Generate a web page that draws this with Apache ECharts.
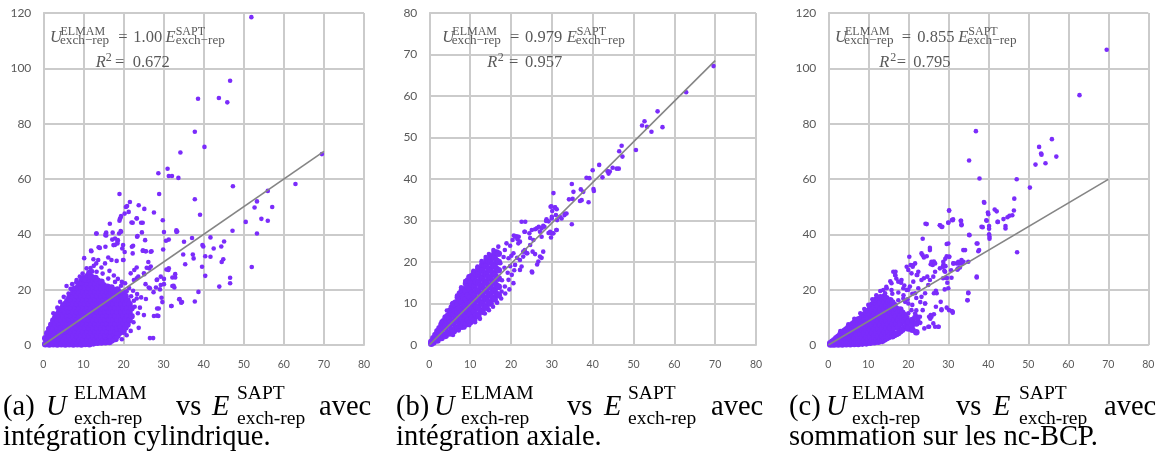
<!DOCTYPE html>
<html><head><meta charset="utf-8">
<script src="https://cdn.jsdelivr.net/npm/echarts@6/dist/echarts.min.js"></script>
<style>html,body{margin:0;padding:0;background:#fff}#c{width:1160px;height:455px}</style>
</head><body><div id="c"></div>
<script>
// ---------- axis / annotation values ----------
const xMax = [80, 80, 80];
const yMax = [120, 80, 120];
const yStep = [20, 10, 20];
const xStep = 10;
const slopes = ['1.00', '0.979', '0.855'];
const slopeVals = [1.00, 0.979, 0.855];
const r2 = ['0.672', '0.957', '0.795'];
const trendXEnd = [70, 70, 70];
const panelTags = ['(a)', '(b)', '(c)'];
const captionLine2 = ['intégration cylindrique.', 'intégration axiale.', 'sommation sur les nc-BCP.'];

// ---------- (a) cylindrical integration : dense core as [x, [y...]] ----------
const coreA = [
[0.5,[0.3,2.4]],[1.0,[1.2,4.2]],[1.5,[0.2,3.1,5.8]],[2.0,[1.5,4.4,7.3]],[2.5,[0.3,3.1,5.9,8.8]],
[3.0,[1.6,4.5,7.4,9.9]],[3.5,[0.2,3.2,6.0,8.9,11.0]],[4.0,[1.7,4.6,7.5,10.4,12.1]],
[4.5,[0.3,3.1,6.1,9.0,11.8,13.0]],[5.0,[1.5,4.5,7.4,10.3,13.2,14.3]],[5.5,[0.2,3.0,6.0,8.9,11.8,14.8]],
[6.0,[1.6,4.6,7.5,10.4,13.3,15.9]],[6.5,[0.3,3.2,6.1,9.0,11.9,14.8,17.1]],[7.0,[1.7,4.6,7.6,10.5,13.4,16.3,18.0]],
[7.5,[0.2,3.1,6.0,8.9,11.8,14.7,17.6,19.2]],[8.0,[1.6,4.5,7.4,10.3,13.2,16.1,19.0,20.3]],
[8.5,[0.3,3.2,6.1,9.0,11.9,14.8,17.7,20.6]],[9.0,[1.5,4.4,7.3,10.2,13.1,16.0,18.9,21.8]],
[9.5,[0.2,3.1,6.0,8.9,11.8,14.7,17.6,20.5,22.9]],[10.0,[1.7,4.6,7.5,10.4,13.3,16.2,19.1,22.0,24.1]],
[10.5,[0.4,3.3,6.2,9.1,12.0,14.9,17.8,20.7,23.6]],[11.0,[1.6,4.5,7.4,10.3,13.2,16.1,19.0,21.9,24.8]],
[11.5,[0.3,3.2,6.1,9.0,11.9,14.8,17.7,20.6,23.5,26.0]],[12.0,[1.5,4.4,7.3,10.2,13.1,16.0,18.9,21.8,24.6]],
[12.5,[0.6,3.1,6.0,8.9,11.8,14.7,17.6,20.5,23.4]],[13.0,[1.7,4.6,7.5,10.4,13.3,16.2,19.1,22.0,24.2]],
[13.5,[0.8,3.2,6.1,9.0,11.9,14.8,17.7,20.6,23.3]],[14.0,[1.6,4.5,7.4,10.3,13.2,16.1,19.0,21.9]],
[14.5,[0.9,3.1,6.0,8.9,11.8,14.7,17.6,20.5,22.8]],[15.0,[1.5,4.4,7.3,10.2,13.1,16.0,18.9,21.6]],
[15.5,[1.0,3.2,6.1,9.0,11.9,14.8,17.7,20.4]],[16.0,[1.7,4.6,7.5,10.4,13.3,16.2,19.1,21.0]],
[16.5,[1.1,3.3,6.2,9.1,12.0,14.9,17.8,20.3]],[17.0,[1.6,4.5,7.4,10.3,13.2,16.1,19.0,20.8]],
[17.5,[3.1,6.0,8.9,11.8,14.7,17.6,19.8]],[18.0,[2.2,4.6,7.5,10.4,13.3,16.2,19.1]],
[18.5,[3.3,6.1,9.0,11.9,14.8,17.7,20.0]],[19.0,[4.4,7.4,10.3,13.2,16.1,19.0]],
[19.5,[5.9,8.9,11.8,14.7,17.6]],[20.0,[4.8,7.5,10.4,13.3,16.2,18.8]],
[20.5,[6.3,9.1,12.0,14.9,17.6]],[21.0,[7.4,10.3,13.2,16.1]],[21.5,[9.0,11.9,14.8]],[22.0,[10.4,13.3]]
];
const sparseA = [
[51.9,118.5],[46.6,95.5],[38.6,89.0],[43.8,89.3],[45.9,87.7],[37.8,77.1],[40.2,71.6],[34.2,69.6],[69.5,69.0],
[28.7,62.1],[31.0,63.7],[31.3,61.1],[32.1,61.1],[33.7,60.4],[47.3,57.4],[62.9,58.2],[28.9,54.6],[19.0,54.6],
[37.8,52.7],[56.0,55.7],[53.3,51.9],[52.7,49.7],[57.1,49.9],[39.1,47.1],[21.6,51.7],[20.6,49.9],[21.3,48.1],
[23.8,50.5],[25.2,49.2],[27.6,47.9],[29.8,45.1],[50.5,44.5],[54.4,45.6],[56.0,44.9],[53.3,40.3],[47.2,41.3],
[33.2,41.5],[33.4,41.0],[30.1,40.8],[31.3,38.1],[35.1,37.3],[37.1,38.7],[41.7,38.9],[39.7,36.1],[39.9,35.6],
[45.1,37.4],[44.4,35.6],[42.5,34.9],[34.9,32.7],[37.3,32.7],[37.5,31.3],[40.4,32.1],[41.7,31.9],[44.9,31.0],
[44.5,30.0],[35.4,29.2],[39.6,28.3],[52.0,28.2],[40.4,25.0],[46.6,24.3],[46.6,22.3],[43.9,21.1],[38.7,19.2],
[37.8,15.7],[34.0,16.6],[34.4,15.3],[31.9,14.1],[27.4,2.5],[26.6,2.5],[29.7,15.5],[28.8,13.2],[27.6,10.5],
[28.4,10.6],[32.9,25.6],[32.2,24.4],[32.5,21.4],[32.7,20.8],[30.7,27.3],[31.3,27.7],[30.1,23.9],[29.3,21.7],
[29.5,17.1],[28.4,23.7],[28.1,20.8],[27.5,19.1],[26.3,20.8],[25.5,22.0],[25.2,25.6],[24.9,34.1],[25.5,33.9],
[27.0,33.9],[26.2,30.0],[26.8,28.4],[25.8,27.9],[23.4,39.1],[22.4,35.9],[22.3,33.1],[19.9,36.1],[20.3,33.6],
[19.9,30.7],[23.3,28.0],[22.7,27.1],[23.3,24.1],[24.6,40.7],[24.8,44.2],[22.3,44.2],[23.3,45.7],[19.3,41.2],
[19.4,46.6],[19.1,45.5],[15.7,40.6],[15.5,39.7],[13.2,40.3],[13.8,35.3],[11.9,34.1],[17.2,38.1],[17.9,36.2],
[18.6,37.9],[18.9,40.3],[20.9,50.2],[20.3,47.5],[19.3,46.1],[23.3,45.8],[19.0,44.9],[22.0,44.3],[24.4,44.2],
[16.6,43.8],[13.3,40.3],[15.6,40.3],[17.3,40.6],[19.4,40.9],[15.7,39.6],[17.9,38.5],[18.5,37.3],[23.5,39.4],
[25.4,37.9],[22.1,35.5],[19.7,34.9],[24.8,34.1],[25.6,33.9],[26.8,33.7],[29.9,34.5],[12.0,33.9],[14.1,35.1],
[15.5,35.5],[17.5,36.1],[18.5,36.7],[10.2,31.4],[12.5,31.0],[16.2,31.6],[17.0,30.7],[18.3,30.4],[20.0,30.7],
[33.2,40.9],[30.6,37.7],[31.2,27.1],[32.9,24.4],[29.3,24.7],[28.3,23.5],[26.4,27.7],[25.1,25.9],[23.7,24.7],
[22.6,23.5],[21.8,25.9],[26.6,20.5],[29.1,20.1],[30.1,22.0],[32.2,21.3],[33.9,16.5],[34.6,15.5],[32.0,14.1],
[28.4,13.2],[28.7,10.5],[25.1,10.8],[24.1,13.5],[25.6,16.6],[23.3,16.8],[21.2,9.0],[19.1,6.6],[18.3,4.2],
[16.6,3.0],[14.3,0.8],[15.5,1.1],[9.1,22.3],[7.5,20.5],[5.8,21.3],[10.4,23.5],[11.6,24.7],[13.3,26.5],
[14.5,28.0],[15.4,29.5],[13.7,30.7],[10.8,27.7],[9.1,24.7],[2.5,11.5],[3.5,13.5],[4.2,15.6],[5.1,17.4],
[6.3,18.6],[7.2,22.0],[8.3,23.5],[11.8,27.8],[12.6,28.6],[16.5,26.8],[17.6,25.1],[18.6,23.9],[19.6,22.8],
[20.4,22.3],[21.4,20.6],[22.4,19.6],[23.4,18.4],[24.4,17.2],[22.8,13.8],[23.6,11.5],[22.5,8.2],[23.8,6.2],
[21.8,5.1],[20.8,3.5],[19.6,2.1],[17.4,1.6],[13.2,29.5],[16.2,24.0],[14.8,25.8],[12.2,26.6],[9.8,25.8],
[8.2,22.6],[6.8,20.3],[17.9,22.8],[19.4,21.4],[20.8,19.4],[21.9,17.6],[22.6,16.0]
];

// ---------- (b) axial integration ----------
const coreB = [
[0.5,[0.3,0.8]],[1.0,[0.6,1.6]],[1.5,[1.2,2.4]],[2.0,[1.1,2.3,3.3]],[2.5,[1.9,3.2,4.0]],
[3.0,[1.7,3.2,4.9]],[3.5,[2.4,4.2,5.7]],[4.0,[2.2,4.1,5.6,6.6]],[4.5,[3.0,5.0,7.0]],
[5.0,[2.8,4.7,6.5,8.2]],[5.5,[3.6,5.6,7.6,9.0]],[6.0,[3.3,5.3,7.3,9.2,9.9]],[6.5,[4.2,6.2,8.2,10.2]],
[7.0,[3.9,5.9,7.9,9.9,11.5]],[7.5,[4.8,6.8,8.8,10.8,12.4]],[8.0,[4.4,6.4,8.4,10.4,12.4,13.2]],
[8.5,[5.4,7.4,9.4,11.4,13.4]],[9.0,[5.0,7.0,9.0,11.0,13.0,14.8]],[9.5,[6.0,8.0,10.0,12.0,14.0,15.6]],
[10.0,[5.5,7.5,9.5,11.5,13.5,15.5,16.4]],[10.5,[6.6,8.6,10.6,12.6,14.6,16.6]],
[11.0,[6.1,8.1,10.1,12.1,14.1,16.1,17.4]],[11.5,[7.2,9.2,11.2,13.2,15.2,17.2]],
[12.0,[7.0,9.0,11.0,13.0,15.0,17.0,18.4]],[12.5,[8.3,10.3,12.3,14.3,16.3,18.3]],
[13.0,[8.0,10.0,12.0,14.0,16.0,18.0,19.4]],[13.5,[9.3,11.3,13.3,15.3,17.3,19.3]],
[14.0,[9.0,11.0,13.0,15.0,17.0,19.0,20.4]],[14.5,[10.3,12.3,14.3,16.3,18.3,20.3]],
[15.0,[10.0,12.0,14.0,16.0,18.0,20.0,21.4]],[15.5,[11.3,13.3,15.3,17.3,19.3,21.3]],
[16.0,[11.0,13.0,15.0,17.0,19.0,21.0,22.3]],[16.5,[12.3,14.3,16.3,18.3,20.3,22.3]],
[17.0,[12.0,14.0,16.0,18.0,20.0,22.0]]
];
const sparseB = [
[69.6,67.2],[62.9,60.9],[55.9,56.3],[52.7,53.9],[52.1,52.9],[53.3,52.6],[54.4,51.4],[57.1,52.5],[50.6,47.0],
[47.1,48.0],[46.5,46.7],[47.3,45.4],[46.4,42.5],[45.9,42.5],[44.9,42.7],[44.2,41.8],[43.9,41.3],[43.6,41.9],
[41.6,43.4],[42.4,40.4],[40.0,42.1],[40.2,37.6],[40.3,37.1],[38.5,40.3],[39.2,40.2],[39.0,34.4],[37.7,36.9],
[37.1,37.5],[37.3,34.9],[36.9,34.7],[35.3,36.9],[34.9,38.8],[35.1,35.2],[34.2,35.1],[34.9,29.1],[33.6,31.7],
[33.1,31.3],[32.0,30.9],[32.4,30.5],[31.3,30.1],[30.4,36.6],[29.9,33.4],[30.8,33.1],[30.1,32.3],[31.0,31.3],
[30.0,30.5],[28.7,30.3],[29.2,29.8],[31.1,27.7],[30.0,26.9],[29.2,27.0],[29.8,25.9],[28.2,28.5],[27.5,28.1],
[26.3,28.1],[25.1,27.7],[24.7,25.8],[23.4,27.3],[22.6,29.7],[23.5,29.7],[20.7,26.4],[21.4,26.2],[21.9,26.1],
[27.5,21.0],[26.4,19.4],[25.2,17.5],[25.3,22.5],[25.9,21.9],[23.0,22.5],[24.0,22.1],[21.0,26.1],[21.6,25.5],
[22.2,24.9],[19.8,23.9],[23.3,27.3],[24.5,26.9],[25.9,27.9],[26.8,28.5],[27.9,28.7],[28.6,29.9],[30.0,30.9],
[29.7,33.3],[30.8,33.2],[31.2,32.7],[33.2,31.6],[31.2,27.7],[29.6,27.3],[30.4,26.9],[27.1,27.3],[27.5,26.1],
[25.5,25.3],[24.7,24.1],[23.4,22.9],[23.8,22.1],[23.0,21.3],[22.2,20.5],[22.6,18.9],[22.2,18.1],[25.1,17.7],
[26.7,20.1],[27.1,21.3],[27.9,22.5],[21.0,19.3],[20.2,16.9],[19.4,15.7],[20.6,14.9],[18.5,14.1],[17.7,12.9],
[21.8,24.5],[20.4,25.3],[18.9,24.5],[18.5,22.9],[16.9,23.7],[15.7,22.9],[20.6,22.1],[19.4,20.9],
[3.0,5.6],[4.3,8.3],[5.6,10.0],[6.8,11.9],[7.8,13.9],[8.8,15.4],[9.6,16.5],[10.8,17.9],[11.8,18.9],
[12.8,20.2],[13.8,21.2],[14.6,21.9],[5.8,2.4],[7.2,3.5],[8.6,4.2],[9.8,4.8],[11.2,5.5],[12.4,6.3],
[13.6,7.6],[14.6,8.4],[15.6,9.2],[16.6,10.2],[17.6,11.2],[18.6,12.4],[19.6,13.4],[17.8,15.6],[18.4,18.6],
[19.2,17.4],[20.1,21.5],[18.2,21.2],[19.8,19.0],[20.8,18.0],[21.5,21.0],[17.4,19.7]
];

// ---------- (c) summation over nc-BCP ----------
const coreC = [
[0.5,[0.2,0.6]],[1.0,[0.3,1.2]],[1.5,[0.2,1.7]],[2.0,[0.5,2.4]],[2.5,[0.2,1.8,3.0]],[3.0,[0.6,2.4,3.7]],
[3.5,[0.2,2.0,4.3]],[4.0,[0.7,3.2,5.0]],[4.5,[0.3,2.1,4.4,5.6]],[5.0,[1.0,3.6,6.2]],[5.5,[0.3,2.4,5.0,6.8]],
[6.0,[1.2,3.8,6.3,7.5]],[6.5,[0.4,2.6,5.2,8.0]],[7.0,[1.3,4.0,6.6,8.6]],[7.5,[0.4,2.7,5.4,8.0,9.2]],
[8.0,[1.4,4.1,6.8,9.5]],[8.5,[0.5,2.8,5.5,8.2,10.3]],[9.0,[1.5,4.2,6.9,9.6,11.0]],
[9.5,[0.6,2.9,5.6,8.3,11.0,11.8]],[10.0,[1.6,4.3,7.0,9.7,12.4]],[10.5,[0.8,3.0,5.7,8.4,11.1,13.4]],
[11.0,[1.7,4.4,7.1,9.8,12.5,14.6]],[11.5,[1.0,3.1,5.8,8.5,11.2,13.9,15.6]],[12.0,[1.8,4.5,7.2,9.9,12.6,15.3,16.4]],
[12.5,[1.2,3.2,5.9,8.6,11.3,14.0,16.7]],[13.0,[1.9,4.6,7.3,10.0,12.7,15.4,17.2]],
[13.5,[1.5,3.3,6.0,8.7,11.4,14.1,16.8]],[14.0,[2.0,4.7,7.4,10.1,12.8,15.5,17.4]],
[14.5,[2.4,3.4,6.1,8.8,11.5,14.2,16.9]],[15.0,[2.8,4.8,7.5,10.2,12.9,15.6]],[15.5,[3.5,6.2,8.9,11.6,14.3,16.2]],
[16.0,[3.2,4.9,7.6,10.3,13.0,15.3]],[16.5,[3.6,6.3,9.0,11.7,14.4]],[17.0,[4.0,7.7,10.4,13.1]],
[17.5,[4.3,6.4,9.1,11.8]],[18.0,[5.0,7.8,10.5,12.8]],[18.5,[5.5,9.2,11.6]],[19.0,[6.2,8.6,10.8]],
[19.5,[7.0,9.7]],[20.0,[6.0,8.4]],[21.0,[5.5,7.5,9.0]],[22.0,[4.6,7.8,10.0]]
];
const sparseC = [
[69.6,106.7],[62.8,90.3],[36.9,77.3],[55.9,74.4],[52.7,71.6],[53.2,69.2],[53.3,68.8],[57.0,68.1],[54.3,65.7],
[51.8,65.2],[35.2,66.7],[37.8,60.2],[47.1,59.9],[50.4,56.9],[38.9,51.7],[46.5,52.9],[46.4,48.6],[41.6,49.0],
[39.9,47.9],[39.5,45.1],[40.2,43.0],[40.2,42.0],[42.4,44.5],[43.8,45.5],[44.8,46.2],[45.3,46.7],[46.0,46.9],
[44.3,43.0],[44.3,42.1],[38.6,42.6],[47.2,33.5],[37.1,24.7],[30.2,48.7],[30.0,44.3],[31.2,45.4],[33.1,44.9],
[33.3,43.6],[35.3,39.7],[37.3,36.7],[37.7,34.3],[34.2,34.3],[33.8,30.1],[33.4,29.5],[32.6,29.5],[32.1,29.5],
[31.3,29.5],[32.3,27.3],[32.9,28.0],[30.8,24.3],[29.75,22.5],[30.25,31.9],[29.6,32.1],[29.6,36.5],[28.8,29.1],
[29.3,28.5],[29.25,31.2],[28.6,28.3],[29.0,26.8],[28.7,24.1],[29.6,24.3],[29.1,20.1],[28.3,12.9],[29.6,13.5],
[30.9,12.3],[31.1,11.7],[35.0,19.0],[34.8,16.2],[28.1,15.6],[26.4,18.7],[24.3,43.8],[27.9,43.3],[28.5,42.7],
[30.9,45.2],[23.6,38.4],[25.4,35.1],[23.6,32.4],[24.6,32.1],[26.4,30.2],[26.1,28.9],[25.6,29.2],[24.75,24.7],
[23.9,24.1],[23.3,23.5],[26.9,19.6],[27.1,18.7],[24.2,15.0],[26.9,13.8],[25.6,10.8],[25.2,10.2],[26.4,11.1],
[26.25,7.8],[27.6,6.6],[25.2,6.6],[20.6,28.9],[21.1,28.3],[21.7,29.5],[20.25,31.9],[22.5,26.5],[22.25,25.3],
[16.25,26.5],[16.75,25.2],[16.7,25.3],[19.6,28.3],[20.0,27.1],[21.25,28.9],[20.8,25.9],[22.1,25.3],[17.5,22.9],
[15.8,22.3],[14.6,20.5],[13.75,19.9],[14.2,18.7],[15.8,19.9],[18.3,23.5],[18.75,20.5],[19.6,19.9],[20.4,21.1],
[21.25,22.9],[21.7,18.7],[22.5,20.5],[23.3,17.4],[24.2,18.7],[25.0,21.7],[25.4,23.5],[26.25,24.7],[26.7,26.5],
[23.3,33.1],[23.9,31.6],[25.4,34.3],[25.8,30.1],[26.7,29.5],[27.9,27.7],[28.75,30.1],[29.2,26.5],[29.6,24.1],
[30.0,20.5],[28.75,28.3],[30.2,31.9],[31.25,29.5],[32.5,30.1],[33.3,30.7],[33.75,34.3],[35.0,30.1],[32.5,27.7],
[30.0,36.7],[24.6,43.7],[27.9,43.3],[28.3,42.7],[31.1,45.1],[30.0,44.2],[33.2,44.9],[33.3,43.3],[30.2,48.5],
[35.2,39.8],[38.3,42.7],[39.0,51.4],[39.6,44.9],[40.0,47.3],[40.2,40.0],[42.1,48.3],[42.3,44.5],[37.1,36.7],
[37.5,33.9],[37.1,24.4],[35.0,18.7],[34.8,16.2],[28.3,12.6],[30.2,12.6],[25.8,10.2],[25.5,9.5],[25.0,6.6],
[26.7,6.6],[27.5,6.6],[24.2,15.0],[23.6,12.6],[22.9,10.2],[22.5,9.0],[21.7,11.4],[20.8,12.6],[20.0,15.0],
[19.2,15.6],[18.75,16.8],[17.5,16.2],[16.8,26.5],[40.3,39.1],[40.3,38.4],[31.1,12.0],[32.25,27.3],[30.7,27.0],
[3.0,5.0],[5.0,7.5],[6.5,9.5],[8.0,11.5],[9.0,13.0],[10.0,14.5],[11.0,16.5],[12.0,18.0],[13.0,19.5],
[14.5,21.0],[15.5,23.0],[17.0,24.0],[18.2,22.5],[19.0,21.5],[20.0,20.0],[21.0,18.5],[22.0,17.0],[23.0,15.5],
[16.0,18.5],[17.5,19.0],[18.8,18.0],[19.8,16.5],[21.0,14.5],[22.0,12.5],[20.0,11.5],[21.5,10.0],[23.0,8.0],[24.0,6.0]
];

// ---------- build ----------
const flat = core => core.flatMap(([x, ys]) => ys.map(y => [x, y]));
const cores = [flat(coreA), flat(coreB), flat(coreC)];
const sparses = [sparseA, sparseB, sparseC];

const grids = [
  {left: 43.3, top: 13, width: 320.7, height: 332},
  {left: 429.3, top: 13, width: 326.7, height: 332},
  {left: 828.3, top: 13, width: 320, height: 332}
];
const gridColor = '#cbcbcb';
const labelColor = '#595959';
const dotColor = '#7b2cfb';

const xAxes = [], yAxes = [], series = [];
for (let i = 0; i < 3; i++) {
  xAxes.push({
    type: 'value', gridIndex: i, min: 0, max: xMax[i], interval: xStep,
    axisLine: {show: true, lineStyle: {color: gridColor, width: 2}},
    axisTick: {show: false},
    splitLine: {show: true, lineStyle: {color: gridColor, width: 2}},
    axisLabel: {color: labelColor, fontFamily: 'Lato', fontSize: 10.5, margin: 14}
  });
  yAxes.push({
    type: 'value', gridIndex: i, min: 0, max: yMax[i], interval: yStep[i],
    axisLine: {show: true, lineStyle: {color: gridColor, width: 2}},
    axisTick: {show: false},
    splitLine: {show: true, lineStyle: {color: gridColor, width: 2}},
    axisLabel: {color: labelColor, fontFamily: 'Lato', fontSize: 12, margin: 12}
  });
  series.push({
    type: 'scatter', xAxisIndex: i, yAxisIndex: i, data: cores[i],
    symbol: 'circle', symbolSize: 6.6, itemStyle: {color: dotColor, opacity: 1},
    silent: true, z: 2
  });
  series.push({
    type: 'scatter', xAxisIndex: i, yAxisIndex: i, data: sparses[i],
    symbol: 'circle', symbolSize: 4.6, itemStyle: {color: dotColor, opacity: 1},
    silent: true, z: 2
  });
  series.push({
    type: 'line', xAxisIndex: i, yAxisIndex: i,
    data: [[0, 0], [trendXEnd[i], trendXEnd[i] * slopeVals[i]]],
    showSymbol: false, symbol: 'none', lineStyle: {color: '#858585', width: 1.6},
    silent: true, z: 3
  });
}

// ---------- text helpers ----------
const graphics = [];
function txt(x, base, text, size, family, color, italic) {
  graphics.push({
    type: 'text', silent: true, z: 10,
    style: {
      x: x, y: base - 0.32 * size, text: text, fill: color,
      fontSize: size, fontFamily: family, fontStyle: italic ? 'italic' : 'normal',
      align: 'left', verticalAlign: 'middle'
    }
  });
}
// in-plot equations (layout positions per panel)
const eqPos = [
  {u: 50, sup1: 60.5, sub1: 60, eq: 118.3, num: 133.3, e: 165.5, sup2: 175.7, sub2: 175.7, r: 95.7, two: 105.8, req: 115, rnum: 132.7},
  {u: 442.3, sup1: 452.3, sub1: 451.7, eq: 510, num: 525, e: 566.7, sup2: 576.7, sub2: 575.7, r: 487.3, two: 497.7, req: 509, rnum: 525},
  {u: 835, sup1: 845, sub1: 844.3, eq: 901.7, num: 917.3, e: 958.3, sup2: 968.3, sub2: 967.3, r: 879.3, two: 890.3, req: 896.7, rnum: 913.3}
];
const eqFont = 'Liberation Serif', eqColor = '#595959';
const EQ = 16.5, ESUP = 12, ESUB = 13.2;
for (let i = 0; i < 3; i++) {
  const p = eqPos[i];
  txt(p.u, 42.7, 'U', EQ, eqFont, eqColor, true);
  txt(p.sup1, 35.7, 'ELMAM', ESUP, eqFont, eqColor, false);
  txt(p.sub1, 45, 'exch\u2212rep', ESUB, eqFont, eqColor, false);
  txt(p.eq, 42.7, '=', EQ, eqFont, eqColor, false);
  txt(p.num, 42.7, slopes[i], EQ, eqFont, eqColor, false);
  txt(p.e, 42.7, 'E', EQ, eqFont, eqColor, true);
  txt(p.sup2, 35.7, 'SAPT', ESUP, eqFont, eqColor, false);
  txt(p.sub2, 45, 'exch\u2212rep', ESUB, eqFont, eqColor, false);
  txt(p.r, 67.5, 'R', EQ, eqFont, eqColor, true);
  txt(p.two, 61.5, '2', ESUP, eqFont, eqColor, false);
  txt(p.req, 67.5, '=', EQ, eqFont, eqColor, false);
  txt(p.rnum, 67.5, r2[i], EQ, eqFont, eqColor, false);
}
// captions
const capPos = [
  {tag: 3, u: 46, sup1: 74, vs: 176, e: 212, sup2: 237, avec: 319},
  {tag: 396, u: 434, sup1: 461, vs: 567, e: 604, sup2: 628, avec: 711},
  {tag: 789, u: 826, sup1: 852, vs: 956, e: 993, sup2: 1019, avec: 1104}
];
const capFont = 'Liberation Serif', capColor = '#000000';
const L1 = 417, SUP = 400, SUB = 425, L2 = 447, CS = 28.5, SS = 19.5;
for (let i = 0; i < 3; i++) {
  const c = capPos[i];
  txt(c.tag, L1, panelTags[i], CS, capFont, capColor, false);
  txt(c.u, L1, 'U', CS, capFont, capColor, true);
  txt(c.sup1, SUP, 'ELMAM', SS, capFont, capColor, false);
  txt(c.sup1, SUB, 'exch-rep', SS, capFont, capColor, false);
  txt(c.vs, L1, 'vs', CS, capFont, capColor, false);
  txt(c.e, L1, 'E', CS, capFont, capColor, true);
  txt(c.sup2, SUP, 'SAPT', SS, capFont, capColor, false);
  txt(c.sup2, SUB, 'exch-rep', SS, capFont, capColor, false);
  txt(c.avec, L1, 'avec', CS, capFont, capColor, false);
  txt(c.tag, L2, captionLine2[i], CS, capFont, capColor, false);
}

const chart = echarts.init(document.getElementById('c'), null, {renderer: 'canvas'});
chart.setOption({
  animation: false,
  backgroundColor: '#ffffff',
  grid: grids.map(g => Object.assign({containLabel: false, outerBoundsMode: 'none'}, g)),
  xAxis: xAxes,
  yAxis: yAxes,
  series: series,
  graphic: graphics
});
</script>
</body></html>
